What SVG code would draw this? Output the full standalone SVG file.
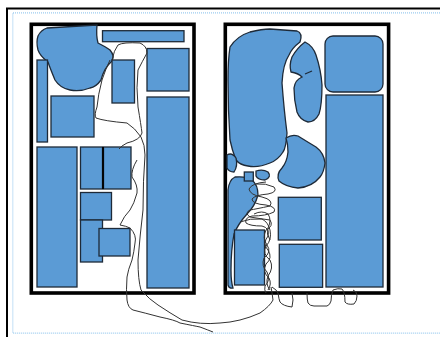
<svg xmlns="http://www.w3.org/2000/svg" width="440" height="337" viewBox="0 0 440 337">
<style>
.b{fill:#5b9bd5;stroke:#1e2a38;stroke-width:1.3}
.p{fill:none;stroke:#000;stroke-width:3.6}
.s{fill:none;stroke:#333;stroke-width:1;stroke-linejoin:round}
.d{fill:none;stroke:#9ccbef;stroke-width:1.2;stroke-dasharray:1 1}
</style>
<rect width="440" height="337" fill="#fff"/>
<g id="frame">
<path d="M7 337 V8.5 H440" fill="none" stroke="#000" stroke-width="2"/>
<path class="d" d="M440 12.8 H12.8 V333.2 H440"/>
</g>
<g id="left-panel">
<rect class="p" x="31.3" y="24.3" width="162.7" height="268.7"/>
<path class="b" d="M47 28 L97 25 Q96 36 98 43 Q106 47 110 50 Q115 56 112 61 Q104 68 101 80 Q96 87 90 88 Q80 92 70 90 Q60 88 55 80 Q50 68 48 62 Q40 56 38 50 Q36 42 38 36 Q41 30 47 28 Z"/>
<rect class="b" x="102.5" y="30.7" width="81.5" height="11"/>
<rect class="b" x="37" y="60" width="10.5" height="82"/>
<rect class="b" x="51" y="96" width="43" height="41"/>
<rect class="b" x="112" y="60" width="22.5" height="43"/>
<rect class="b" x="147" y="48.5" width="42" height="42.5"/>
<rect class="b" x="147" y="97" width="42" height="191"/>
<rect class="b" x="37" y="147" width="40" height="140"/>
<rect class="b" x="80.5" y="147" width="22" height="42"/>
<rect class="b" x="103.5" y="147" width="27.5" height="42"/>
<line x1="103" y1="147" x2="103" y2="189" stroke="#000" stroke-width="1.8"/>
<rect class="b" x="80.5" y="192.5" width="31" height="27.5"/>
<rect class="b" x="80.5" y="220" width="22" height="42"/>
<rect class="b" x="99" y="228.5" width="31" height="27.5"/>
</g>
<g id="right-panel">
<rect class="p" x="225.3" y="24.3" width="163.3" height="268.7"/>
<path class="b" d="M230 47 Q237 36 250 32 Q262 29 270 29 L297 31 Q303 33 300 42 Q292 48 289 55 Q283 64 282 83 Q284 110 287 133 Q286 148 283 152 Q278 160 270 163 Q258 168 248 166 Q240 165 236 160 Q232 150 230 140 Q228 110 228 80 Q228 60 230 47 Z"/>
<path class="b" d="M305 42 Q313 46 316 55 Q321 70 322 85 Q322 105 319 114 Q315 122 308 122 Q300 120 297 112 Q294 100 294 88 Q295 80 302 77 Q298 73 291 72 Q289 65 292 57 Q297 48 305 42 Z"/>
<path class="b" d="M312 71 L305 74" fill="none"/>
<path class="b" d="M227 155 Q232 152 236 158 Q238 166 234 172 Q229 172 227 168 Z"/>
<rect class="b" x="325" y="36" width="58" height="56" rx="8"/>
<rect class="b" x="326" y="95" width="57" height="192"/>
<path class="b" d="M286 138 Q292 134 298 136 Q306 141 316 147 Q324 153 325 163 Q324 172 320 177 Q312 187 298 188 Q286 187 279 181 Q276 174 282 168 Q287 162 288 152 Q288 144 286 138 Z"/>
<path class="b" d="M235 177 Q247 176 252 180 Q258 185 258 195 Q255 206 247 214 Q238 224 234 234 Q231 250 231 270 Q231 282 233 288 Q229 289 228 285 L228 190 Q229 180 235 177 Z"/>
<rect class="b" x="234.5" y="230" width="30" height="55"/>
<rect class="b" x="244.3" y="172" width="9" height="9"/>
<path class="b" d="M256 171 Q263 169 268 172 Q272 177 265 180 Q258 180 256 176 Z"/>
<rect class="b" x="278.3" y="197.3" width="43" height="42.7"/>
<rect class="b" x="279.3" y="244.3" width="43.3" height="43"/>
</g>
<g id="connectors">
<path class="s" d="M112 60 Q114 50 118 45 Q123 42 140 43 Q147 46 147 53 Q142 62 138 70 Q136 87 138 107 Q141 125 142 133 Q140 140 127 143 Q121 146 119 149"/>
<path class="s" d="M110 60 Q106 68 102 80 Q98 95 97 107 Q94 115 96 118 Q104 121 127 123 Q135 128 141 137 Q145 145 145 155 Q143 180 143 210 Q140 235 138 260 Q138 280 141 290 Q150 300 158 305 Q170 313 182 320 Q200 325 220 323 Q240 322 260 313 Q270 306 273 300 Q272 292 271 287"/>
<path class="s" d="M137 160 Q131 170 132 177 Q138 185 137 193 Q134 204 130 210 Q124 216 120 225 Q126 226 130 228 Q137 235 135 243 Q134 252 132 260 Q128 270 127 277 Q126 290 127 300 Q128 308 133 310 Q145 313 160 317 Q175 320 180 323 Q195 326 200 327 Q208 330 213 332"/>
<path class="s" d="M272 287 Q277 290 278 293 Q279 300 280 302 Q283 306 292 307 Q294 300 292 293"/>
<path class="s" d="M307 293 Q307 300 308 303 Q310 306 314 306 L327 306 Q330 305 331 301 Q331 295 333 290 Q338 288 342 289 Q345 292 345 302 Q347 305 354 304 Q357 301 357 296 Q357 291 353 290"/>
<path class="s" d="M256 184 Q266 183 274 187 Q278 192 268 194 Q255 195 252 199 Q252 204 266 205 Q277 207 274 212 Q266 216 252 216 Q244 218 246 223 Q250 226 262 226 Q270 228 268 236 Q262 244 268 250 Q273 258 266 264 Q262 272 269 278 Q272 284 268 290"/>
<path class="s" d="M266 182 Q252 183 249 189 Q250 195 262 197 Q274 200 270 206 Q256 209 250 210 Q244 213 250 217 Q262 219 270 220 Q274 226 266 230 Q262 238 267 245 Q272 252 264 258 Q261 266 267 272 Q271 280 265 286 Q264 290 266 293"/>
<path class="s" d="M240 222 Q250 218 262 219 Q268 222 270 230 Q272 240 266 246 Q262 254 270 260 Q274 268 268 276 Q265 284 270 290"/>
<path class="s" d="M254 214 Q262 210 268 214 Q272 220 268 228 Q266 234 270 240"/>
</g>
</svg>
